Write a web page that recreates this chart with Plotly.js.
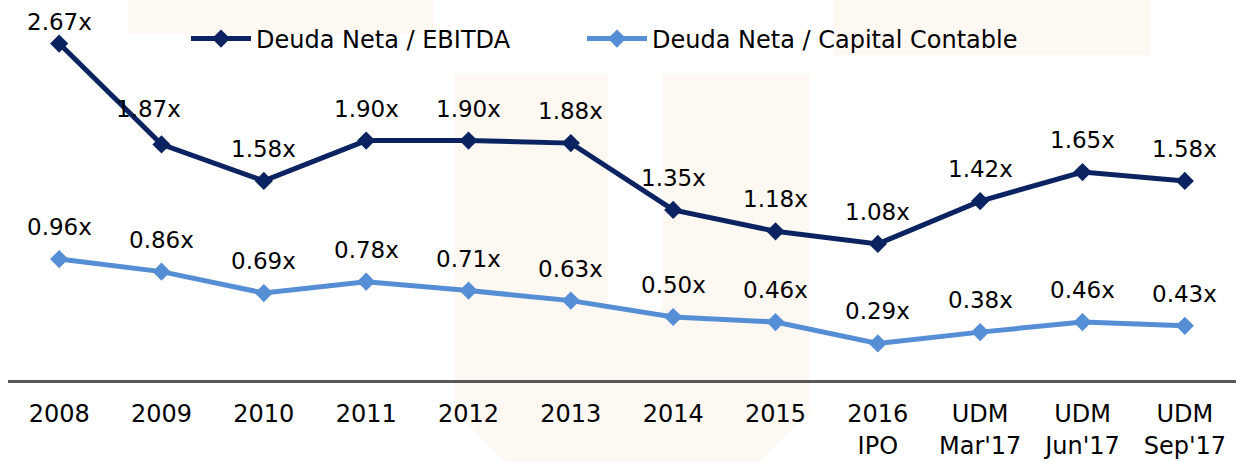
<!DOCTYPE html>
<html>
<head>
<meta charset="utf-8">
<script src="https://cdn.plot.ly/plotly-3.0.1.min.js"></script>
<style>html,body{margin:0;padding:0;background:#fff;}#chart{width:1236px;height:462px;}</style>
</head>
<body>
<div id="chart"></div>
<script>
// ---- data ----
const categories = ["2008","2009","2010","2011","2012","2013","2014","2015","2016<br>IPO","UDM<br>Mar'17","UDM<br>Jun'17","UDM<br>Sep'17"];
const deudaEbitda = [2.67,1.87,1.58,1.90,1.90,1.88,1.35,1.18,1.08,1.42,1.65,1.58];
const deudaCapital = [0.96,0.86,0.69,0.78,0.71,0.63,0.50,0.46,0.29,0.38,0.46,0.43];
const seriesNames = ["Deuda Neta / EBITDA","Deuda Neta / Capital Contable"];

const FONT = "DejaVu Sans";
const NAVY = "#0B2461";
const LIGHT = "#558ED5";

// pixel -> paper helpers for watermark (plot area: x 8..1236, y 2..380)
const L = 8, W = 1228, T = 2, H = 378;
const px = v => (v - L) / W;
const py = v => (T + H - v) / H;
const WM = "#FDF8F1";
function poly(pts){ return "M" + pts.map(p => px(p[0]).toFixed(4) + "," + py(p[1]).toFixed(4)).join("L") + "Z"; }

const shapes = [
  {type:"rect", xref:"paper", yref:"paper", x0:px(128), x1:px(434), y0:py(34), y1:py(0), fillcolor:WM, line:{width:0}, layer:"below"},
  {type:"rect", xref:"paper", yref:"paper", x0:px(834), x1:px(1150), y0:py(55), y1:py(0), fillcolor:WM, line:{width:0}, layer:"below"},
  {type:"path", xref:"paper", yref:"paper", path:poly([[454,75],[810,75],[810,410],[760,462],[505,462],[454,410]]), fillcolor:WM, line:{width:0}, layer:"below"},
  {type:"rect", xref:"paper", yref:"paper", x0:px(608), x1:px(662), y0:py(312), y1:py(75), fillcolor:"#ffffff", line:{width:0}, layer:"below"}
];

function fmt(v){ return v.toFixed(2) + "x"; }
const annotations = [];
const special = {"0-0":{xs:0,ys:22},"0-1":{xs:-13,ys:35}};
[deudaEbitda, deudaCapital].forEach((arr, si) => {
  arr.forEach((v, i) => {
    const sp = special[si + "-" + i] || {xs:0, ys:32};
    annotations.push({x:i, y:v, xref:"x", yref:"y", text:fmt(v), showarrow:false,
      xshift:sp.xs, yshift:sp.ys, font:{family:FONT, size:23, color:"#000"}});
  });
});

const traces = [
  {x:categories, y:deudaEbitda, name:seriesNames[0], type:"scatter", mode:"lines+markers", legend:"legend",
   line:{color:NAVY, width:5}, marker:{symbol:"diamond", size:14, color:NAVY}, cliponaxis:false},
  {x:categories, y:deudaCapital, name:seriesNames[1], type:"scatter", mode:"lines+markers", legend:"legend2",
   line:{color:LIGHT, width:5}, marker:{symbol:"diamond", size:14, color:LIGHT}, cliponaxis:false}
];

const legendBase = {orientation:"h", xanchor:"left", y:py(39), yanchor:"middle",
  bgcolor:"rgba(0,0,0,0)", font:{family:FONT, size:24, color:"#000"}, itemwidth:60};

const layout = {
  width:1236, height:462,
  margin:{l:L, r:0, t:T, b:82},
  paper_bgcolor:"#ffffff", plot_bgcolor:"rgba(0,0,0,0)",
  font:{family:FONT, size:24, color:"#000"},
  showlegend:true,
  legend:Object.assign({x:px(186)}, legendBase),
  legend2:Object.assign({x:px(582)}, legendBase),
  xaxis:{type:"category", range:[-0.5,11.5], showgrid:false, zeroline:false, showline:true,
         linecolor:"#595959", linewidth:2.5, ticks:"", ticklabelstandoff:11,
         tickfont:{family:FONT, size:24, color:"#000"}, fixedrange:true},
  yaxis:{range:[0,3], showgrid:false, zeroline:false, showline:false, showticklabels:false, ticks:"", fixedrange:true},
  shapes:shapes,
  annotations:annotations
};

Plotly.newPlot("chart", traces, layout, {displayModeBar:false, staticPlot:true});
</script>
</body>
</html>
